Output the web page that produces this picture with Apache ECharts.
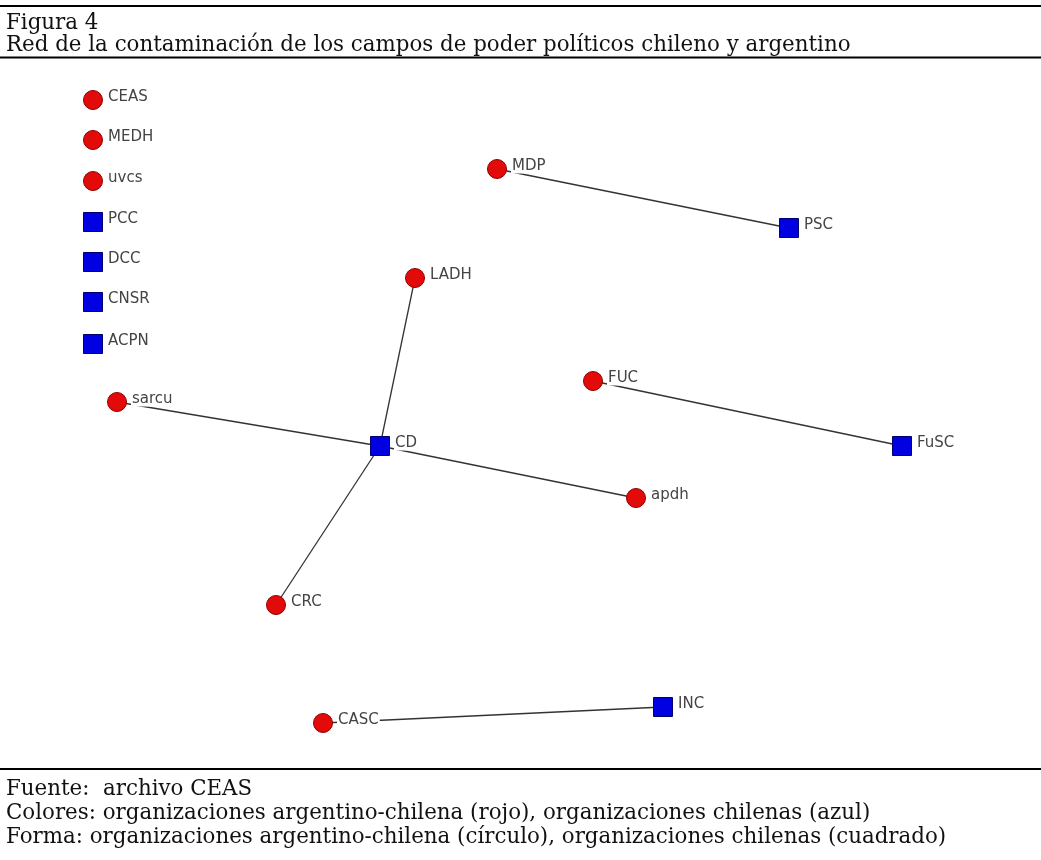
<!DOCTYPE html>
<html>
<head>
<meta charset="utf-8">
<script src="https://cdn.jsdelivr.net/npm/echarts@6/dist/echarts.min.js"></script>
<style>
html,body{margin:0;padding:0;background:#fff;}
#chart{width:1041px;height:860px;}
</style>
</head>
<body>
<div id="chart"></div>
<script>
// ---- data ----
const nodeNames = ['CEAS','MEDH','uvcs','PCC','DCC','CNSR','ACPN','sarcu','LADH','CD','MDP','PSC','FUC','FuSC','apdh','CRC','CASC','INC'];
const nodeX = [93,93,93,93,93,93,93,117,415,380,497,789,593,902,636,276,323,663];
const nodeY = [100,140,181,222,262,302,344,402,278,446,169,228,381,446,498,605,723,707];
const nodeGroup = ['ar','ar','ar','cl','cl','cl','cl','ar','ar','cl','ar','cl','ar','cl','ar','ar','ar','cl'];
const linkSource = ['MDP','LADH','sarcu','CD','CD','FUC','CASC'];
const linkTarget = ['PSC','CD','CD','apdh','CRC','FuSC','INC'];
const groupNames = ['organizaciones argentino-chilena','organizaciones chilenas'];
const headText1 = 'Figura 4';
const headText2 = 'Red de la contaminación de los campos de poder políticos chileno y argentino';
const footTexts = [
  'Fuente:  archivo CEAS',
  'Colores: organizaciones argentino-chilena (rojo), organizaciones chilenas (azul)',
  'Forma: organizaciones argentino-chilena (círculo), organizaciones chilenas (cuadrado)'
];

// ---- build ----
const chart = echarts.init(document.getElementById('chart'), null, {renderer:'canvas'});
const W = 1041, H = 860;
const serifFam = '"DejaVu Serif", serif';

// fit serif font size to the measured text widths of the reference
const mctx = document.createElement('canvas').getContext('2d');
mctx.font = '100px ' + serifFam;
const s1 = 100 * 846 / mctx.measureText(headText2).width;
const s2 = 100 * 939 / mctx.measureText(footTexts[2]).width;
const serifSize = Math.max(18, Math.min(24, (s1 + s2) / 2));

const nodes = nodeNames.map((n, i) => ({
  name: n,
  value: [nodeX[i], nodeY[i]],
  category: nodeGroup[i] === 'ar' ? 0 : 1,
  symbol: nodeGroup[i] === 'ar' ? 'circle' : 'rect'
}));
const links = linkSource.map((s, i) => ({source: s, target: linkTarget[i]}));

const textEl = (t, baseline) => ({
  type: 'text', silent: true,
  x: 6, y: baseline - serifSize * 0.33,
  style: {text: t, font: serifSize.toFixed(2) + 'px ' + serifFam, fill: '#111', verticalAlign: 'middle', align: 'left'}
});
const rule = (y, w) => ({
  type: 'line', silent: true,
  shape: {x1: 0, y1: y, x2: W, y2: y},
  style: {stroke: '#000', lineWidth: w}
});

chart.setOption({
  backgroundColor: '#fff',
  animation: false,
  grid: {left: 0, right: 0, top: 0, bottom: 0},
  xAxis: {type: 'value', min: 0, max: W, show: false},
  yAxis: {type: 'value', min: 0, max: H, inverse: true, show: false},
  graphic: [
    rule(6, 2),
    rule(57.5, 1.8),
    rule(769, 2),
    textEl(headText1, 30),
    textEl(headText2, 52),
    textEl(footTexts[0], 796),
    textEl(footTexts[1], 820),
    textEl(footTexts[2], 844)
  ],
  series: [{
    type: 'graph',
    coordinateSystem: 'cartesian2d',
    layout: 'none',
    symbolSize: 19,
    categories: [
      {name: groupNames[0], itemStyle: {color: '#e30a0a', borderColor: '#8e0000', borderWidth: 1}},
      {name: groupNames[1], itemStyle: {color: '#0000e0', borderColor: '#000070', borderWidth: 1}}
    ],
    data: nodes,
    links: links,
    lineStyle: {color: '#333', width: 1.3, opacity: 1, curveness: 0},
    label: {
      show: true,
      position: 'right',
      distance: 4,
      offset: [0, -3],
      fontFamily: '"DejaVu Sans", sans-serif',
      fontSize: 15,
      color: '#444',
      backgroundColor: '#fff',
      padding: [0, 1]
    },
    emphasis: {disabled: true}
  }]
});
</script>
</body>
</html>
